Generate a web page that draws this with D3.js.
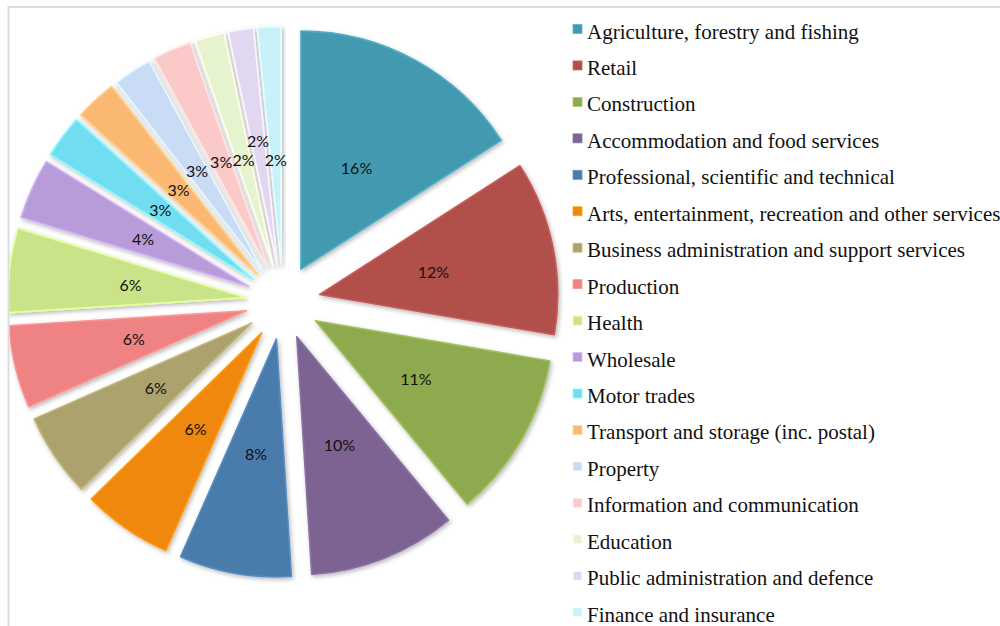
<!DOCTYPE html>
<html>
<head>
<meta charset="utf-8">
<script src="https://cdn.jsdelivr.net/npm/d3@7/dist/d3.min.js"></script>
<style>
  html, body { margin: 0; padding: 0; background: #fff; }
  svg { display: block; }
</style>
</head>
<body>
<svg id="chart" width="1000" height="626"></svg>
<script>
// Business counts by industry, share of total (%)
const categories = [
  "Agriculture, forestry and fishing",
  "Retail",
  "Construction",
  "Accommodation and food services",
  "Professional, scientific and technical",
  "Arts, entertainment, recreation and other services",
  "Business administration and support services",
  "Production",
  "Health",
  "Wholesale",
  "Motor trades",
  "Transport and storage (inc. postal)",
  "Property",
  "Information and communication",
  "Education",
  "Public administration and defence",
  "Finance and insurance"
];
const shares = [15.9, 11.8, 11.3, 10.0, 7.6, 6.1, 5.7, 5.6, 5.7, 4.1, 2.9, 2.8, 2.6, 2.6, 2.0, 1.7, 1.6];
const colors = [
  "#4399b0", "#b14f4b", "#8eaa50", "#7b6392", "#4a7cab", "#f0880f",
  "#aca26d", "#ef8282", "#c9e388", "#b89bd9", "#72dcf1", "#fbb873",
  "#c9dbf5", "#fac9c8", "#e6f3cf", "#e1d7f1", "#c9f1f9"
];

const svg = d3.select("#chart");
const W = 1000, H = 626;
const cx = 283, cy = 302;        // pie centre
const R = 238;                    // slice radius
const explode = 37.5;             // distance each slice is pulled out
const labelR = 116;               // label distance from a slice's apex

const defs = svg.append("defs");
const shadow = defs.append("filter").attr("id", "shadow")
  .attr("x", "-20%").attr("y", "-20%").attr("width", "140%").attr("height", "140%");
shadow.append("feDropShadow")
  .attr("dx", 1.5).attr("dy", 2).attr("stdDeviation", 2)
  .attr("flood-color", "#000").attr("flood-opacity", 0.28);

defs.append("clipPath").attr("id", "plotClip")
  .append("rect").attr("x", 9.5).attr("y", 8).attr("width", W).attr("height", H);

// plot-area frame (top and left edges visible)
svg.append("path")
  .attr("d", `M8.5,${H} V7 H${W}`)
  .attr("fill", "none").attr("stroke", "#dcdcdc").attr("stroke-width", 2);

const total = d3.sum(shares);
const pct = d3.format(".0%");

const pie = d3.pie().sort(null).value(d => d).startAngle(0).endAngle(2 * Math.PI);
const arcs = pie(shares);
const arc = d3.arc().innerRadius(0).outerRadius(R);

const offsetOf = a => {
  const mid = (a.startAngle + a.endAngle) / 2;
  return [Math.sin(mid) * explode, -Math.cos(mid) * explode];
};

const pieG = svg.append("g")
  .attr("clip-path", "url(#plotClip)")
  .append("g")
  .attr("transform", `translate(${cx},${cy})`);

pieG.selectAll("path.slice")
  .data(arcs)
  .join("path")
  .attr("class", "slice")
  .attr("transform", d => `translate(${offsetOf(d)})`)
  .attr("d", arc)
  .attr("fill", (d, i) => colors[i])
  .attr("stroke", (d, i) => d3.color(colors[i]).brighter(0.35))
  .attr("stroke-width", 1.6)
  .attr("stroke-linejoin", "round")
  .attr("filter", "url(#shadow)");

// percentage labels; a label that would collide with one already placed
// slides along its slice's bisector (inward or outward, whichever is shorter)
const labelG = svg.append("g").attr("transform", `translate(${cx},${cy})`);
const placed = [];
arcs.forEach((a, i) => {
  const t = labelG.append("text")
    .attr("text-anchor", "middle")
    .attr("dominant-baseline", "central")
    .attr("font-family", "Lato, 'Open Sans', sans-serif")
    .attr("font-size", 16)
    .attr("fill", "#111")
    .text(pct(a.value / total));
  const box = t.node().getBBox();
  const w = box.width, h = box.height;
  const mid = (a.startAngle + a.endAngle) / 2;
  const r0 = explode + labelR;
  const at = r => [Math.sin(mid) * r, -Math.cos(mid) * r];
  const hits = ([x, y]) => placed.some(p =>
    Math.abs(p.x - x) < (p.w + w) / 2 && Math.abs(p.y - y) < (p.h + h) / 2);
  let pos = at(r0);
  for (let k = 1; hits(pos) && k < 80; k++) {
    const outer = at(r0 + k), inner = at(r0 - k);
    if (!hits(outer)) { pos = outer; break; }
    if (!hits(inner)) { pos = inner; break; }
  }
  placed.push({ x: pos[0], y: pos[1], w, h });
  t.attr("x", pos[0]).attr("y", pos[1]);
});

// legend
const legendX = 573, legendTop = 38.5, rowH = 36.45;
const legend = svg.append("g");
const rows = legend.selectAll("g.row")
  .data(categories)
  .join("g")
  .attr("class", "row")
  .attr("transform", (d, i) => `translate(${legendX},${legendTop + i * rowH})`);

rows.append("rect")
  .attr("x", 0).attr("y", -14)
  .attr("width", 9).attr("height", 9)
  .attr("fill", (d, i) => colors[i])
  .attr("stroke", (d, i) => d3.color(colors[i]).brighter(0.5))
  .attr("stroke-width", 0.8);

rows.append("text")
  .attr("x", 14).attr("y", 0)
  .attr("font-family", "'Liberation Serif', 'Times New Roman', serif")
  .attr("font-size", 21)
  .attr("fill", "#111")
  .text(d => d);
</script>
</body>
</html>
